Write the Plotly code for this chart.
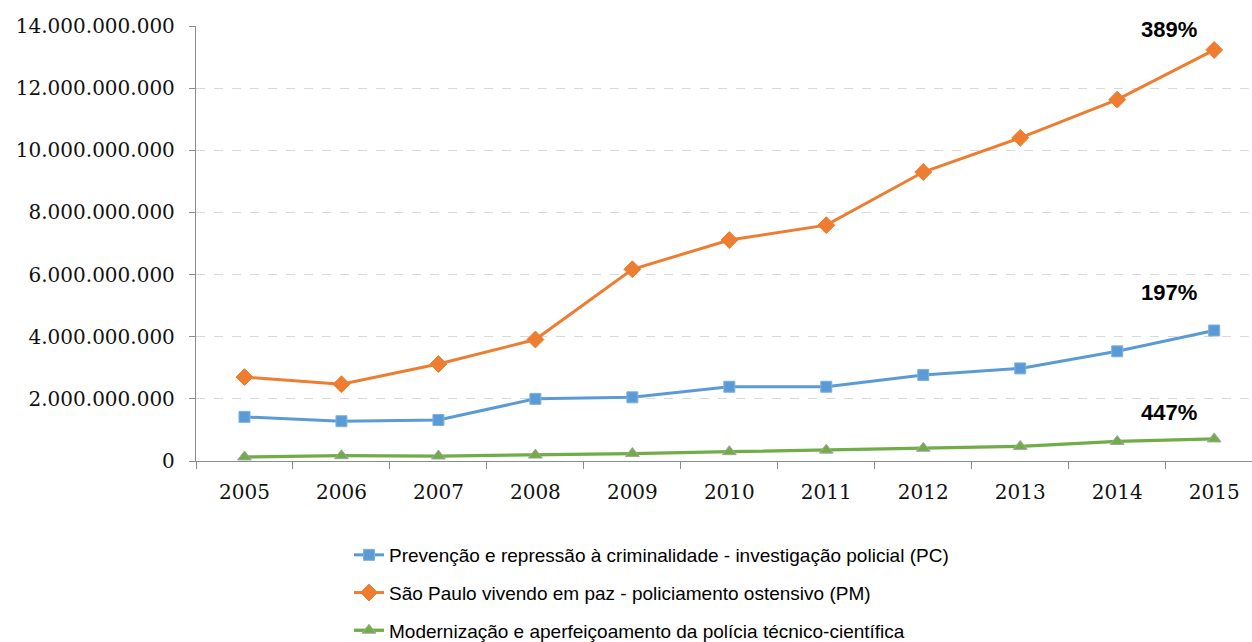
import plotly.graph_objects as go

years = ["2005", "2006", "2007", "2008", "2009", "2010", "2011", "2012", "2013", "2014", "2015"]
pc_values = [1.42e9, 1.28e9, 1.32e9, 2.00e9, 2.05e9, 2.39e9, 2.39e9, 2.77e9, 2.98e9, 3.53e9, 4.20e9]
pm_values = [2.70e9, 2.47e9, 3.12e9, 3.91e9, 6.17e9, 7.11e9, 7.59e9, 9.30e9, 10.40e9, 11.63e9, 13.23e9]
ptc_values = [0.13e9, 0.17e9, 0.16e9, 0.19e9, 0.24e9, 0.30e9, 0.35e9, 0.41e9, 0.47e9, 0.63e9, 0.71e9]
series_names = [
    "Prevenção e repressão à criminalidade - investigação policial (PC)",
    "São Paulo vivendo em paz - policiamento ostensivo (PM)",
    "Modernização e aperfeiçoamento da polícia técnico-científica",
]
growth_labels = ["389%", "197%", "447%"]
growth_label_y = [13.88e9, 5.41e9, 1.56e9]
y_ticks = [0, 2e9, 4e9, 6e9, 8e9, 10e9, 12e9, 14e9]

fig = go.Figure()
fig.add_trace(go.Scatter(
    x=years, y=pc_values, name=series_names[0], mode="lines+markers",
    line=dict(color="#5b9bd5", width=3),
    marker=dict(symbol="square", size=11, color="#5b9bd5", line=dict(color="#7fb1e0", width=1)),
    legendgroup="a",
))
fig.add_trace(go.Scatter(
    x=years, y=pm_values, name=series_names[1], mode="lines+markers",
    line=dict(color="#ed7d31", width=3),
    marker=dict(symbol="diamond", size=13, color="#ed7d31", line=dict(color="#ed7d31", width=1)),
    legendgroup="b",
))
fig.add_trace(go.Scatter(
    x=years, y=ptc_values, name=series_names[2], mode="lines+markers",
    line=dict(color="#70ad47", width=3.3),
    marker=dict(symbol="triangle-up", size=12, color="#70ad47", line=dict(color="#a5a5a5", width=1)),
    legendgroup="c",
))

for txt, yy in zip(growth_labels, growth_label_y):
    fig.add_annotation(x=9.53, y=yy, xref="x", yref="y", text="<b>" + txt + "</b>",
                       showarrow=False, font=dict(family="Liberation Sans", size=22, color="#000000"),
                       xanchor="center", yanchor="middle")

fig.update_layout(
    width=1252, height=642,
    margin=dict(l=196, r=0, t=25.5, b=180.5, autoexpand=False),
    paper_bgcolor="white", plot_bgcolor="white",
    separators=",.",
    showlegend=True,
    legend=dict(
        xref="container", yref="container", x=349 / 1252, y=1 - 536 / 642,
        xanchor="left", yanchor="top",
        font=dict(family="Liberation Sans", size=19, color="#000000"),
        traceorder="grouped", tracegroupgap=10,
        bgcolor="rgba(0,0,0,0)",
    ),
    xaxis=dict(
        type="category", range=[-0.5, 10.39], automargin=False,
        showline=True, linecolor="#8c8c8c", linewidth=1.3,
        ticks="outside", ticklen=7, tickcolor="#8c8c8c", tickson="boundaries",
        showgrid=False, zeroline=False, tickangle=0,
        tickfont=dict(family="DejaVu Serif", size=20, color="#111111"),
        ticklabelstandoff=13,
    ),
    yaxis=dict(
        range=[0, 14e9], tickvals=y_ticks, tickformat=",.0f", automargin=False,
        showline=True, linecolor="#8c8c8c", linewidth=1.3,
        ticks="outside", ticklen=6, tickcolor="#8c8c8c",
        showgrid=True, gridcolor="#d9d9d9", griddash="dash", gridwidth=1,
        zeroline=False,
        tickfont=dict(family="DejaVu Serif", size=20, color="#111111"),
        ticklabelstandoff=10,
    ),
)

fig.write_html("out.html")
